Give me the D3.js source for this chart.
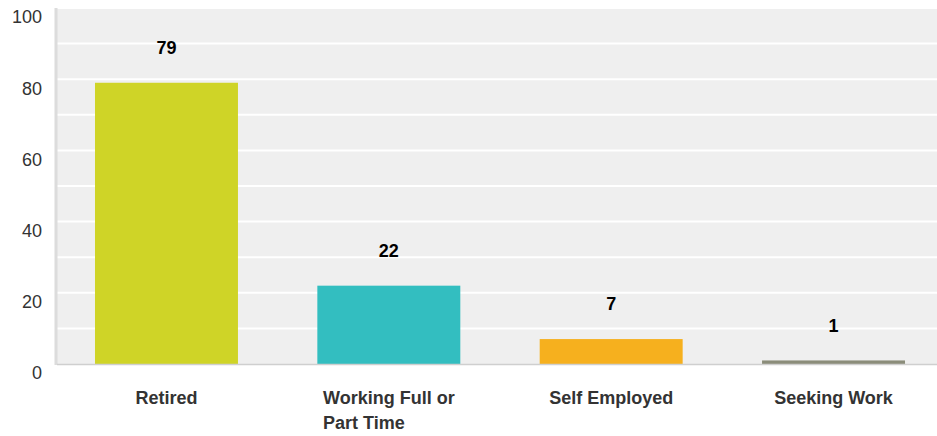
<!DOCTYPE html>
<html><head><meta charset="utf-8">
<script src="https://cdn.jsdelivr.net/npm/d3@7"></script>
<style>body{margin:0;background:#fff;} svg{display:block;font-family:"Liberation Sans",Arial,sans-serif;}</style>
</head><body>
<svg id="c" width="937" height="436"></svg>
<script>
const categories = ["Retired", "Working Full or Part Time", "Self Employed", "Seeking Work"];
const values = [79, 22, 7, 1];
const colors = ["#cfd427", "#33bec0", "#f6b01e", "#8b8d7a"];
const yTicks = [0, 20, 40, 60, 80, 100];

(function () {
const svg = d3.select("#c");
const fs = 18;
const pLeft = 57, pRight = 937, pTop = 8, pBottom = 364;
const y = d3.scaleLinear().domain([0, 100]).range([pBottom, pTop]);
const x = d3.scaleBand().domain(categories).range([55.3, 944.7]).paddingInner(0.357).paddingOuter(0.1785);

svg.append("rect").attr("x", pLeft).attr("y", pTop).attr("width", pRight - pLeft).attr("height", pBottom - pTop).attr("fill", "#efefef");

svg.append("g").selectAll("line").data(d3.range(10, 101, 10)).join("line")
  .attr("x1", pLeft).attr("x2", pRight).attr("y1", d => y(d)).attr("y2", d => y(d))
  .attr("stroke", "#fff").attr("stroke-width", 2);

svg.append("line").attr("x1", 56).attr("x2", 56).attr("y1", pTop).attr("y2", pBottom + 1)
  .attr("stroke", "#dcdcdc").attr("stroke-width", 3);

svg.append("g").selectAll("rect").data(categories).join("rect")
  .attr("x", d => x(d)).attr("width", x.bandwidth())
  .attr("y", (d, i) => y(values[i])).attr("height", (d, i) => pBottom - y(values[i]))
  .attr("fill", (d, i) => colors[i]);

svg.append("line").attr("x1", pLeft).attr("x2", pRight).attr("y1", pBottom + 0.5).attr("y2", pBottom + 0.5)
  .attr("stroke", "#cfcfcf").attr("stroke-width", 1.5);

svg.append("g").selectAll("text").data(yTicks).join("text")
  .attr("x", 42).attr("y", d => y(d) + 9).attr("dy", "0.35em")
  .attr("text-anchor", "end").attr("font-size", fs).attr("fill", "#333")
  .text(d => d);

svg.append("g").selectAll("text").data(categories).join("text")
  .attr("x", d => x(d) + x.bandwidth() / 2).attr("y", (d, i) => y(values[i]) - 35).attr("dy", "0.35em")
  .attr("text-anchor", "middle").attr("font-size", fs).attr("font-weight", "bold").attr("fill", "#000")
  .text((d, i) => values[i]);

const maxW = 145;
categories.forEach(c => {
  const words = c.split(" ");
  const lines = [];
  let cur = "";
  const tmp = svg.append("text").attr("font-size", fs).attr("font-weight", "bold");
  words.forEach(w => {
    const t = cur ? cur + " " + w : w;
    tmp.text(t);
    if (tmp.node().getComputedTextLength() > maxW && cur) { lines.push(cur); cur = w; } else cur = t;
  });
  lines.push(cur);
  let bw = 0;
  lines.forEach(l => { tmp.text(l); bw = Math.max(bw, tmp.node().getComputedTextLength()); });
  tmp.remove();
  const cx = x(c) + x.bandwidth() / 2;
  const t = svg.append("text").attr("font-size", fs).attr("font-weight", "bold").attr("fill", "#333")
    .attr("text-anchor", lines.length > 1 ? "start" : "middle");
  lines.forEach((l, i) => {
    t.append("tspan").attr("x", lines.length > 1 ? cx - bw / 2 : cx).attr("y", 398 + i * 25).attr("dy", "0.35em").text(l);
  });
});
})();
</script>
</body></html>
